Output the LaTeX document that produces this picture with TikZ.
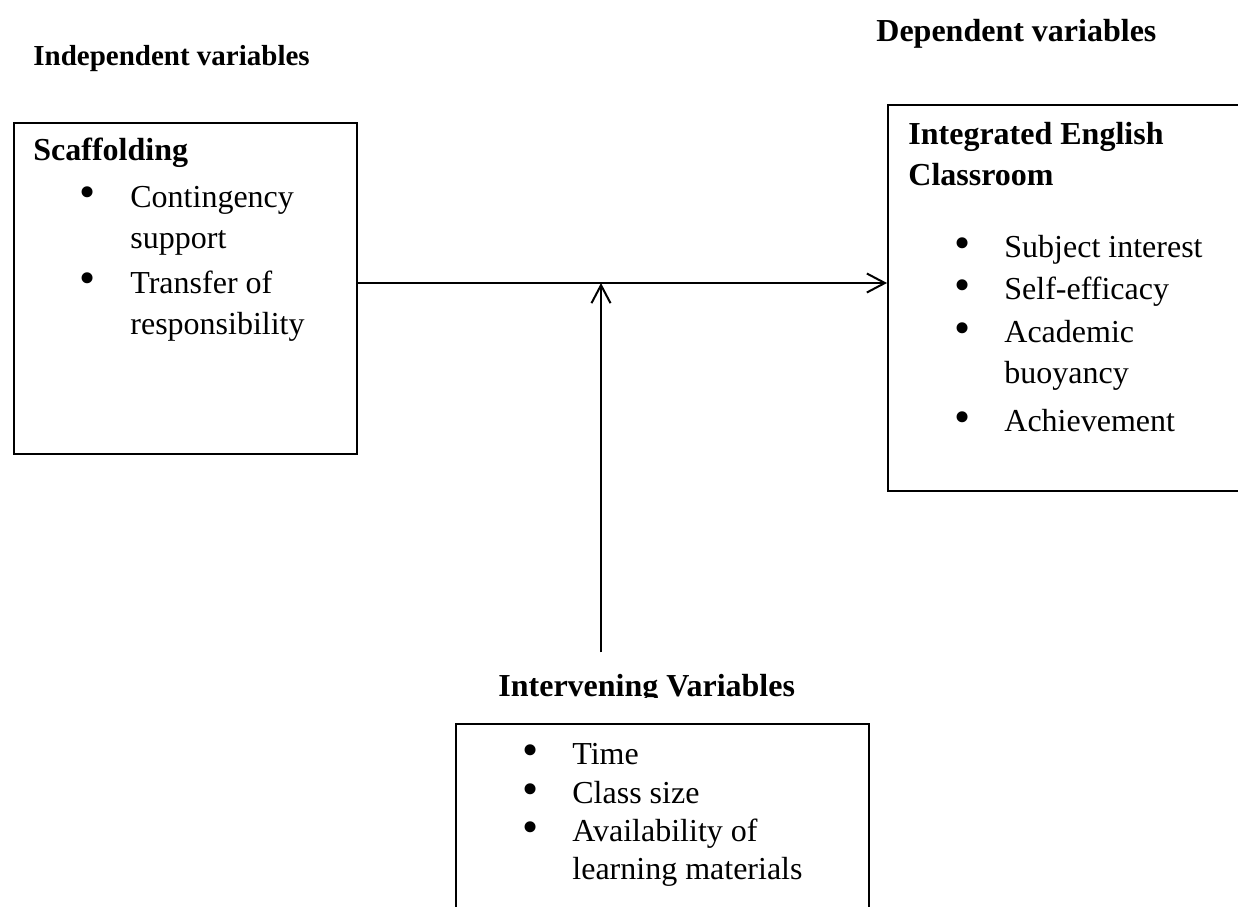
\documentclass[tikz,border=0pt]{standalone}
\usepackage{fontspec}
\setmainfont{Liberation Serif}
\usetikzlibrary{positioning,arrows.meta}

\begin{document}
\begin{tikzpicture}[
  x=0.5pt, y=-0.5pt,
  >={Straight Barb[length=9pt,width=9.5pt]},
  frame/.style={draw, line width=1pt, inner sep=0pt, anchor=north west},
  head/.style={font=\fontsize{16}{20.5}\selectfont\bfseries, inner sep=0pt, anchor=base west, align=left},
  item/.style={font=\fontsize{16}{20.5}\selectfont, inner sep=0pt, anchor=base west, align=left},
  dot/.style={font=\fontsize{23}{23}\selectfont, inner sep=0pt, anchor=center},
  arr/.style={->, line width=1pt}
]
  \useasboundingbox (0,0) rectangle (1238,906);
  \clip (0,0) rectangle (1238,906);

  % column headings
  \node[head, font=\fontsize{14.5}{18}\selectfont\bfseries] (indep) at (33,65) {Independent variables};
  \node[head] (dep) at (876,41) {Dependent variables};

  % boxes
  \node[frame, minimum width=171.5pt, minimum height=165.5pt] (scaf) at (13,122) {};
  \node[frame, minimum width=190pt, minimum height=193pt] (iec) at (887,104) {};
  \node[frame, minimum width=206.5pt, minimum height=110pt] (intv) at (455,723) {};

  % independent (multi-line nodes sit on their last line)
  \node[head] (scaft) at (33,160) {Scaffolding};
  \node[dot] (sb1) at (88,197) {\textbullet};
  \node[item] (s1) at (130,248) {Contingency\\support};
  \node[dot] (sb2) at (88,283) {\textbullet};
  \node[item] (s2) at (130,334) {Transfer of\\responsibility};

  % dependent
  \node[head] (iect) at (908,185) {Integrated English\\Classroom};
  \node[dot] (db1) at (963,248) {\textbullet};
  \node[item] (d1) at (1004,257) {Subject interest};
  \node[dot] (db2) at (963,290) {\textbullet};
  \node[item] (d2) at (1004,299) {Self-efficacy};
  \node[dot] (db3) at (963,333) {\textbullet};
  \node[item] (d3) at (1004,383) {Academic\\buoyancy};
  \node[dot] (db4) at (963,422) {\textbullet};
  \node[item] (d4) at (1004,431) {Achievement};

  % intervening
  \begin{scope}
    \clip (400,640) rectangle (900,697);
    \node[head] (intvt) at (498,696) {Intervening Variables};
  \end{scope}
  \node[dot] (ib1) at (531,755) {\textbullet};
  \node[item] (i1) at (572,764) {Time};
  \node[dot] (ib2) at (531,794) {\textbullet};
  \node[item] (i2) at (572,803) {Class size};
  \node[dot] (ib3) at (531,832) {\textbullet};
  \node[item, font=\fontsize{16}{19}\selectfont] (i3) at (572,879) {Availability of\\learning materials};

  % connectors
  \coordinate (jn) at (601,283);
  \draw[arr] (scaf.east |- jn) -- (iec.west |- jn);
  \draw[arr] ([yshift=10.5pt]intvt.north -| jn) -- (jn);
\end{tikzpicture}
\end{document}
